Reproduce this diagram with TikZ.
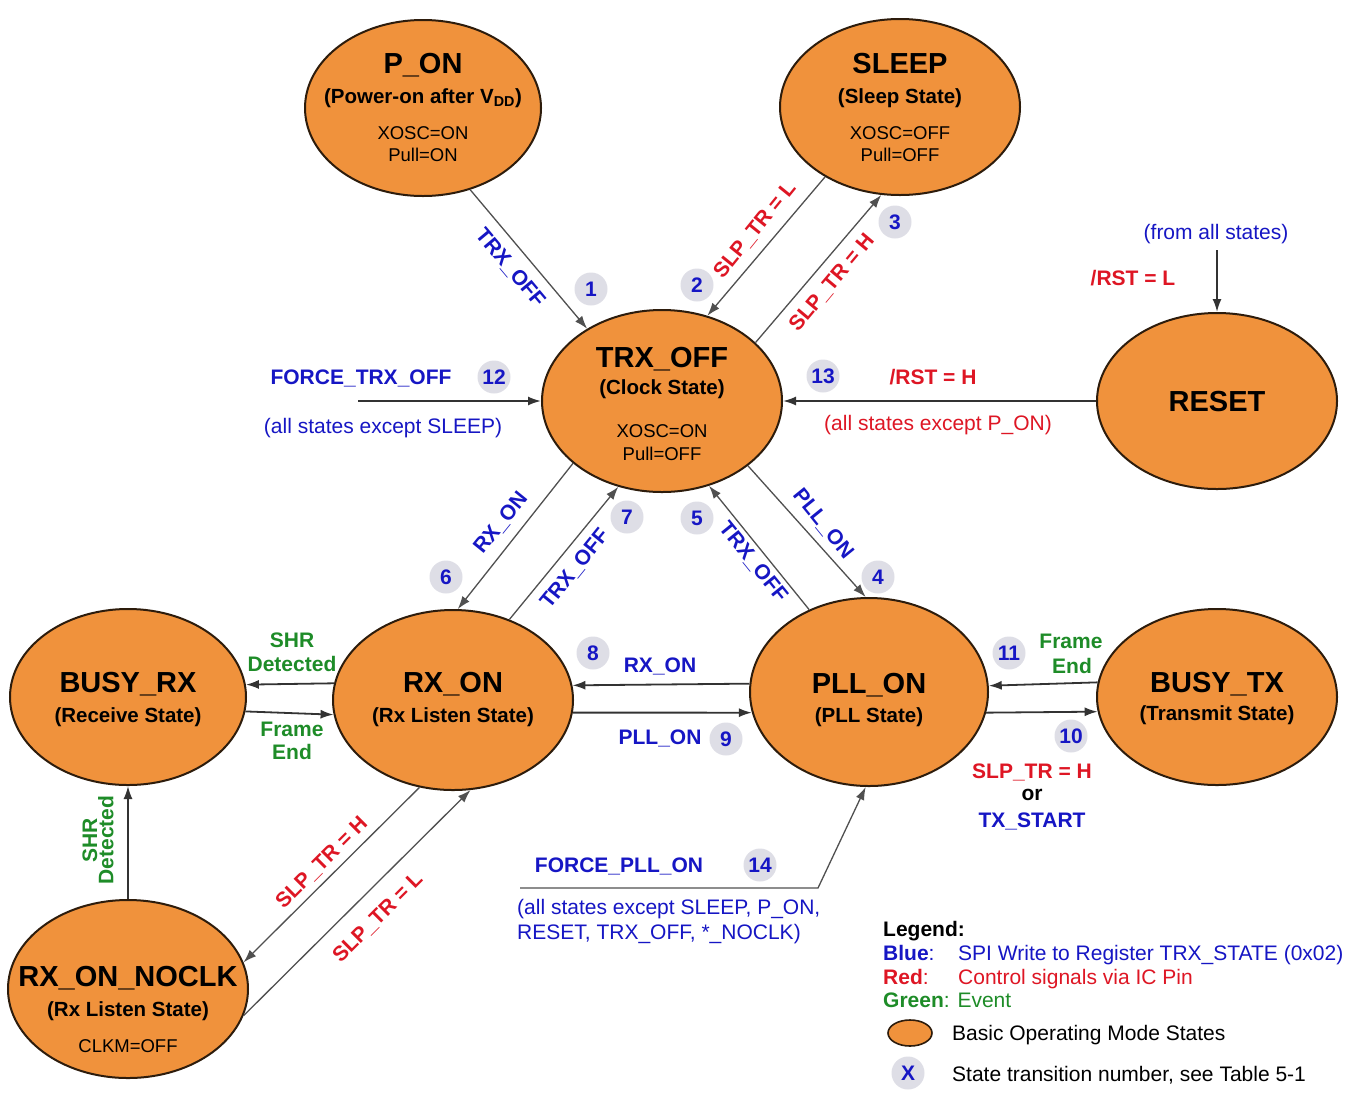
\documentclass[tikz,border=0pt]{standalone}
\usepackage{fontspec}
\setmainfont{Liberation Sans}
\usetikzlibrary{shapes.geometric,arrows.meta}
\definecolor{stateor}{RGB}{240,146,60}
\definecolor{statebd}{RGB}{45,28,12}
\definecolor{tblue}{RGB}{22,22,196}
\definecolor{tred}{RGB}{222,22,36}
\definecolor{tgreen}{RGB}{30,140,40}
\definecolor{numgrey}{RGB}{222,222,230}
\definecolor{edgec}{RGB}{80,80,80}
\newcommand\fT{\fontsize{29}{31}\selectfont\bfseries}
\newcommand\fS{\fontsize{20.5}{23}\selectfont\bfseries}
\newcommand\fM{\mdseries\fontsize{18.5}{21}\selectfont}
\newcommand\fL{\fontsize{21}{24}\selectfont\bfseries}
\newcommand\fD{\mdseries\fontsize{21}{24}\selectfont}
\begin{document}
\begin{tikzpicture}[x=1pt,y=-1pt,
  state/.style={ellipse, draw=statebd, line width=2pt, fill=stateor, inner sep=0pt},
  tx/.style={inner sep=0pt, anchor=base},
  txl/.style={inner sep=0pt, anchor=base west},
  rl/.style={inner sep=0pt, anchor=center},
  num/.style={circle, fill=numgrey, minimum size=33pt, inner sep=0pt, text=tblue, font=\fL},
  edge/.style={draw=edgec, line width=1.3pt, -{Latex[length=13pt,width=9pt]}},
  hedge/.style={draw=black!80, line width=1.8pt, -{Latex[length=13pt,width=9pt]}}]
\useasboundingbox (0,0) rectangle (1351,1093);
\fill[white] (0,0) rectangle (1351,1093);

% states
\node[state, minimum width=236pt, minimum height=176pt] (pon) at (423,108) {};
\node[state, minimum width=240pt, minimum height=176pt] (sleep) at (900,107) {};
\node[state, minimum width=240pt, minimum height=182pt] (trxoff) at (662,401) {};
\node[state, minimum width=240pt, minimum height=176pt] (reset) at (1217,401) {};
\node[state, minimum width=236pt, minimum height=176pt] (busyrx) at (128,697) {};
\node[state, minimum width=240pt, minimum height=180pt] (rxon) at (453,700) {};
\node[state, minimum width=238pt, minimum height=188pt] (pllon) at (869,692) {};
\node[state, minimum width=240pt, minimum height=176pt] (busytx) at (1217,697) {};
\node[state, minimum width=240pt, minimum height=178pt] (noclk) at (128,989) {};

% state texts
\node[tx] (ponT) at (423,73) {\fT P\_ON};
\node[tx] (ponS) at (423,103) {\fS (Power-on after V\textsubscript{DD})};
\node[tx] (ponA) at (423,139) {\fM XOSC=ON};
\node[tx] (ponB) at (423,161) {\fM Pull=ON};

\node[tx] (slT) at (900,73) {\fT SLEEP};
\node[tx] (slS) at (900,103) {\fS (Sleep State)};
\node[tx] (slA) at (900,139) {\fM XOSC=OFF};
\node[tx] (slB) at (900,161) {\fM Pull=OFF};

\node[tx] (toT) at (662,367) {\fT TRX\_OFF};
\node[tx] (toS) at (662,394) {\fS (Clock State)};
\node[tx] (toA) at (662,437) {\fM XOSC=ON};
\node[tx] (toB) at (662,460) {\fM Pull=OFF};

\node[tx] (rsT) at (1217,411) {\fT RESET};

\node[tx] (brT) at (128,692) {\fT BUSY\_RX};
\node[tx] (brS) at (128,722) {\fS (Receive State)};

\node[tx] (roT) at (453,692) {\fT RX\_ON};
\node[tx] (roS) at (453,722) {\fS (Rx Listen State)};

\node[tx] (plT) at (869,693) {\fT PLL\_ON};
\node[tx] (plS) at (869,722) {\fS (PLL State)};

\node[tx] (btT) at (1217,692) {\fT BUSY\_TX};
\node[tx] (btS) at (1217,720) {\fS (Transmit State)};

\node[tx] (ncT) at (128,986) {\fT RX\_ON\_NOCLK};
\node[tx] (ncS) at (128,1016) {\fS (Rx Listen State)};
\node[tx] (ncA) at (128,1052) {\fM CLKM=OFF};

% free ends
\coordinate (f12) at (358,401);
\coordinate (frst) at (1217,250);
\coordinate (f14a) at (520,888);
\coordinate (f14b) at (818,888);

% connectors
\draw[edge] (pon.-60) -- (trxoff.136);
\draw[edge] (sleep.-137) -- (trxoff.62);
\draw[edge] (trxoff.32) -- (sleep.-102);
\draw[edge] (trxoff.-37) -- (pllon.92);
\draw[edge] (pllon.126) -- (trxoff.-61);
\draw[edge] (trxoff.-145) -- (rxon.87);
\draw[edge] (rxon.55) -- (trxoff.-117);
\draw[hedge] (pllon.176.14) -- (rxon.7.72);
\draw[hedge] (rxon.-6.25) -- (pllon.190.26);
\draw[hedge] (pllon.-10.26) -- (busytx.187.72);
\draw[hedge] (busytx.173.75) -- (pllon.3.86);
\draw[hedge] (rxon.172.28) -- (busyrx.6.36);
\draw[hedge] (busyrx.-7.86) -- (rxon.-173.75);
\draw[hedge] (reset.west) -- (trxoff.east);
\draw[hedge] (f12) -- (trxoff.west);
\draw[hedge] (frst) -- (reset.north);
\draw[edge] (f14a) -- (f14b) -- (pllon.-92);
\draw[edge] (rxon.-111) -- (noclk.13);
\draw[edge] (noclk.-13) -- (rxon.-79);
\draw[hedge] (noclk.north) -- (busyrx.south);

% rotated labels
\node[rl, rotate=-50, text=tblue] (l1) at (510,268) {\fL TRX\_OFF};
\node[rl, rotate=51, text=tred] (l2) at (755,230) {\fL SLP\_TR = L};
\node[rl, rotate=50, text=tred] (l3) at (832,283) {\fL SLP\_TR = H};
\node[rl, rotate=-51, text=tblue] (l4) at (823,524) {\fL PLL\_ON};
\node[rl, rotate=-51, text=tblue] (l5) at (753,562) {\fL TRX\_OFF};
\node[rl, rotate=51, text=tblue] (l6) at (501,523) {\fL RX\_ON};
\node[rl, rotate=51, text=tblue] (l7) at (575,569) {\fL TRX\_OFF};
\node[rl, rotate=45, text=tred] (lsh) at (322,863) {\fL SLP\_TR = H};
\node[rl, rotate=45, text=tred] (lsl) at (378,918) {\fL SLP\_TR = L};
\node[rl, rotate=90, text=tgreen, align=center] (lshr2) at (98,840) {\fL SHR\\\fL Detected};

% horizontal labels
\node[tx, text=tblue] (l12) at (361,384) {\fL FORCE\_TRX\_OFF};
\node[tx, text=tblue] (l12d) at (383,433) {\fD (all states except SLEEP)};
\node[tx, text=tred] (l13) at (933,384) {\fL /RST = H};
\node[tx, text=tred] (l13d) at (938,430) {\fD (all states except P\_ON)};
\node[tx, text=tred] (lrst) at (1133,285) {\fL /RST = L};
\node[tx, text=tblue] (lfrom) at (1216,239) {\fD (from all states)};
\node[tx, text=tgreen] (lshra) at (292,647) {\fL SHR};
\node[tx, text=tgreen] (lshrb) at (292,671) {\fL Detected};
\node[tx, text=tgreen] (lfea) at (292,736) {\fL Frame};
\node[tx, text=tgreen] (lfeb) at (292,759) {\fL End};
\node[tx, text=tblue] (l8) at (660,672) {\fL RX\_ON};
\node[tx, text=tblue] (l9) at (660,744) {\fL PLL\_ON};
\node[tx, text=tgreen] (l11a) at (1071,648) {\fL Frame};
\node[tx, text=tgreen] (l11b) at (1072,673) {\fL End};
\node[tx, text=tred] (l10a) at (1032,778) {\fL SLP\_TR = H};
\node[tx, text=black] (l10b) at (1032,800) {\fL or};
\node[tx, text=tblue] (l10c) at (1032,827) {\fL TX\_START};
\node[tx, text=tblue] (l14) at (619,872) {\fL FORCE\_PLL\_ON};
\node[txl, text=tblue] (l14d) at (517,914) {\fD (all states except SLEEP, P\_ON,};
\node[txl, text=tblue] (l14e) at (517,939) {\fD RESET, TRX\_OFF, *\_NOCLK)};

% numbers
\node[num] (n1) at (591,289) {1};
\node[num] (n2) at (697,285) {2};
\node[num] (n3) at (895,222) {3};
\node[num] (n4) at (878,577) {4};
\node[num] (n5) at (697,518) {5};
\node[num] (n6) at (446,577) {6};
\node[num] (n7) at (627,517) {7};
\node[num] (n8) at (593,653) {8};
\node[num] (n9) at (726,739) {9};
\node[num] (n10) at (1071,736) {10};
\node[num] (n11) at (1009,653) {11};
\node[num] (n12) at (494,377) {12};
\node[num] (n13) at (823,376) {13};
\node[num] (n14) at (760,865) {14};

% legend
\node[txl] (lg0) at (883,936) {\fL Legend:};
\node[txl, text=tblue] (lg1) at (883,960) {\fL Blue\fD:};
\node[txl, text=tblue] (lg1t) at (958,960) {\fD SPI Write to Register TRX\_STATE (0x02)};
\node[txl, text=tred] (lg2) at (883,984) {\fL Red\fD:};
\node[txl, text=tred] (lg2t) at (958,984) {\fD Control signals via IC Pin};
\node[txl, text=tgreen] (lg3) at (883,1007) {\fL Green\fD: Event};
\node[ellipse, draw=statebd, line width=1.6pt, fill=stateor, minimum width=44pt, minimum height=26pt, inner sep=0pt] (lg4e) at (910,1033) {};
\node[txl] (lg4) at (952,1040) {\fD Basic Operating Mode States};
\node[num] (lg5n) at (908,1073) {X};
\node[txl] (lg5) at (952,1081) {\fD State transition number, see Table 5-1};
\end{tikzpicture}
\end{document}
